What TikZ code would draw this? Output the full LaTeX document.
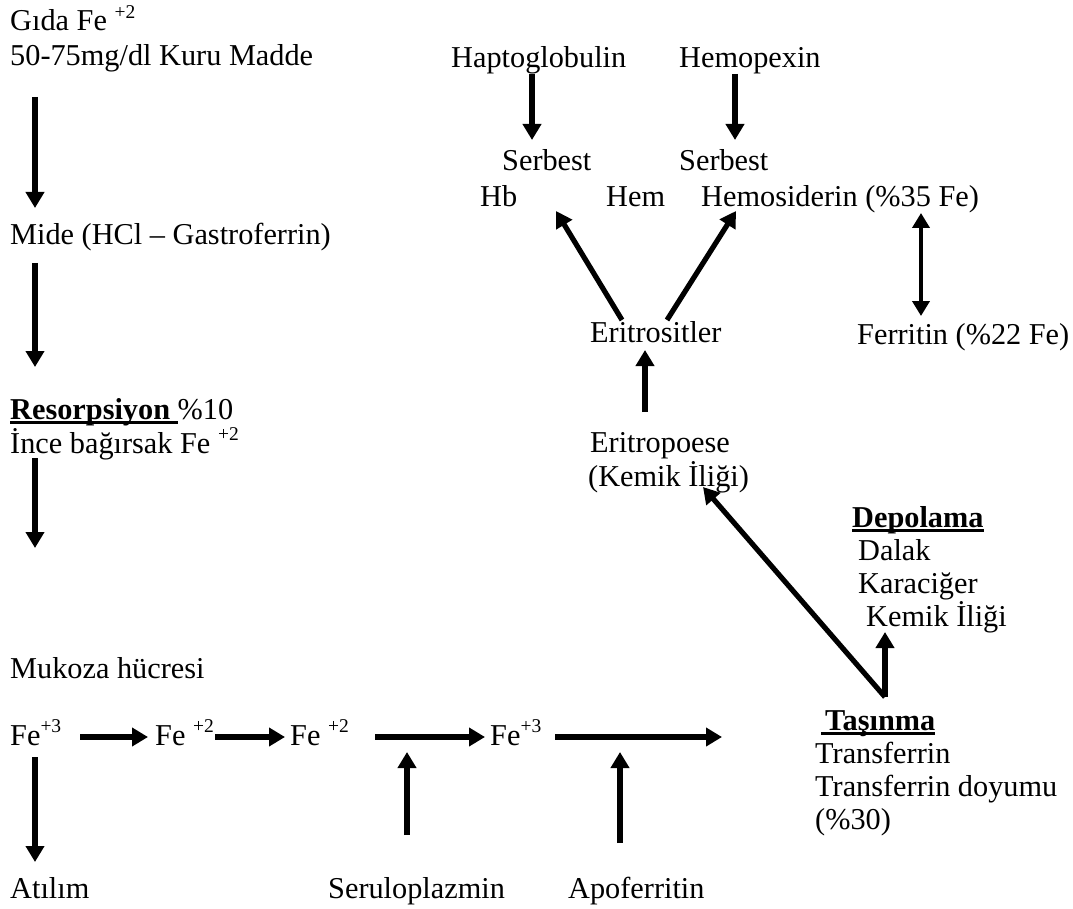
\documentclass[tikz,border=0pt]{standalone}
\usepackage{fontspec}
\setmainfont{Liberation Serif}
\usetikzlibrary{arrows.meta}
% raised charge of an ion
\newcommand{\chg}[1]{\raisebox{0.42em}{\fontsize{19.5}{19.5}\selectfont #1}}
% heavy underline for section headings
\newlength{\ulw}
\newcommand{\ulx}[1]{\settowidth{\ulw}{#1}\rlap{\rule[-5pt]{\ulw}{2.6pt}}#1}
\tikzset{
  lbl/.style={inner sep=0pt, anchor=base west, font=\fontsize{30.3}{34.5}\selectfont},
  flow/.style={line width=5.2pt, -{Triangle[length=16pt,width=18pt]}},
  both/.style={line width=4.6pt, {Triangle[length=15pt,width=17pt]}-{Triangle[length=15pt,width=17pt]}}
}
\begin{document}
\begin{tikzpicture}[x=1pt,y=-1pt]
\useasboundingbox (0,0) rectangle (1073,909);

% left column: food to mucosa
\node[lbl] (gida) at (10,31) {Gıda Fe \chg{+2}};
\node[lbl] (kuru) at (10,66) {50-75mg/dl Kuru Madde};
\node[lbl] (mide) at (10,245) {Mide (HCl – Gastroferrin)};
\node[lbl] (res)  at (10,419) {\ulx{\textbf{Resorpsiyon}\ }\%10};
\node[lbl] (ince) at (10,453) {İnce bağırsak Fe \chg{+2}};
\node[lbl] (muk)  at (10,678) {Mukoza hücresi};

% iron chain in the mucosa cell
\node[lbl] (f1) at (10,745)  {Fe\chg{+3}};
\node[lbl] (f2) at (155,745) {Fe \chg{+2}};
\node[lbl] (f3) at (290,745) {Fe \chg{+2}};
\node[lbl] (f4) at (490,745) {Fe\chg{+3}};

\node[lbl] (atilim) at (10,898)  {Atılım};
\node[lbl] (serul)  at (328,898) {Seruloplazmin};
\node[lbl] (apo)    at (568,898) {Apoferritin};

% transport and storage
\node[lbl] (tas)  at (821,730) {\ulx{\hspace{4pt}\textbf{Taşınma}}};
\node[lbl] (tr1)  at (815,763) {Transferrin};
\node[lbl] (tr2)  at (815,796) {Transferrin doyumu};
\node[lbl] (tr3)  at (815,829) {(\%30)};

\node[lbl] (dep)  at (852,527) {\ulx{\textbf{Depolama}}};
\node[lbl] (dal)  at (858,560) {Dalak};
\node[lbl] (kar)  at (858,593) {Karaciğer};
\node[lbl] (kem)  at (866,626) {Kemik İliği};

% erythropoiesis branch
\node[lbl] (erp1) at (590,452) {Eritropoese};
\node[lbl] (erp2) at (588,486) {(Kemik İliği)};
\node[lbl] (eri)  at (590,342) {Eritrositler};
\node[lbl] (fer)  at (857,344) {Ferritin (\%22 Fe)};

\node[lbl] (hap)  at (451,68)  {Haptoglobulin};
\node[lbl] (hpx)  at (679,68)  {Hemopexin};
\node[lbl] (ser1) at (502,171) {Serbest};
\node[lbl] (ser2) at (679,171) {Serbest};
\node[lbl] (hb)   at (480,207) {Hb};
\node[lbl] (hem)  at (606,207) {Hem};
\node[lbl] (hms)  at (701,207) {Hemosiderin (\%35 Fe)};

% arrow end points
\coordinate (a1s) at (35,97);   \coordinate (a1e) at (35,208);
\coordinate (a2s) at (35,263);  \coordinate (a2e) at (35,367);
\coordinate (a3s) at (35,458);  \coordinate (a3e) at (35,548);
\coordinate (a4s) at (35,757);  \coordinate (a4e) at (35,862);

\coordinate (h1s) at (80,737);  \coordinate (h1e) at (148,737);
\coordinate (h2s) at (215,737); \coordinate (h2e) at (285,737);
\coordinate (h3s) at (375,737); \coordinate (h3e) at (485,737);
\coordinate (h4s) at (555,737); \coordinate (h4e) at (722,737);

\coordinate (u1s) at (407,835); \coordinate (u1e) at (407,752);
\coordinate (u2s) at (620,843); \coordinate (u2e) at (620,752);

\coordinate (t0)  at (885,697);
\coordinate (t1)  at (703,487);
\coordinate (t2)  at (885,632);

\coordinate (e1s) at (645,412); \coordinate (e1e) at (645,350);
\coordinate (b1s) at (622,320); \coordinate (b1e) at (556,211);
\coordinate (b2s) at (667,320); \coordinate (b2e) at (736,211);

\coordinate (p1s) at (532,74);  \coordinate (p1e) at (532,140);
\coordinate (p2s) at (735,74);  \coordinate (p2e) at (735,140);

\coordinate (d1)  at (921,213); \coordinate (d2)  at (921,316);

% arrows
\draw[flow] (a1s) -- (a1e);
\draw[flow] (a2s) -- (a2e);
\draw[flow] (a3s) -- (a3e);
\draw[flow] (a4s) -- (a4e);

\draw[flow] (h1s) -- (h1e);
\draw[flow] (h2s) -- (h2e);
\draw[flow] (h3s) -- (h3e);
\draw[flow] (h4s) -- (h4e);

\draw[flow] (u1s) -- (u1e);
\draw[flow] (u2s) -- (u2e);

\draw[flow] (t0) -- (t1);
\draw[flow] (t0) -- (t2);

\draw[flow] (e1s) -- (e1e);
\draw[flow] (b1s) -- (b1e);
\draw[flow] (b2s) -- (b2e);

\draw[flow] (p1s) -- (p1e);
\draw[flow] (p2s) -- (p2e);

\draw[both] (d1) -- (d2);
\end{tikzpicture}
\end{document}
